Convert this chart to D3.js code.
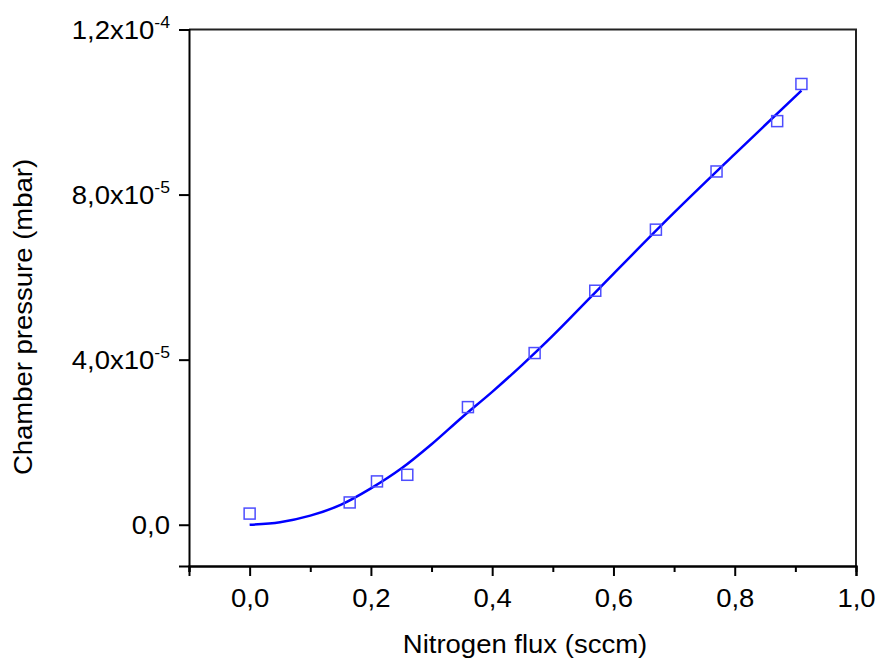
<!DOCTYPE html>
<html>
<head>
<meta charset="utf-8">
<script src="https://cdn.jsdelivr.net/npm/d3@7"></script>
<style>
  html, body { margin: 0; padding: 0; background: #fff; }
  svg { display: block; font-family: "Liberation Sans", Arial, sans-serif; }
</style>
</head>
<body>
<svg id="chart" width="876" height="659"></svg>
<script>
// Measured chamber pressure vs nitrogen flow
const fluxSccm = [0, 0.165, 0.21, 0.26, 0.36, 0.47, 0.57, 0.67, 0.77, 0.87, 0.91];
const pressureMbar = [2.7e-6, 5.4e-6, 1.05e-5, 1.21e-5, 2.85e-5, 4.16e-5, 5.67e-5, 7.15e-5, 8.56e-5, 9.78e-5, 1.068e-4];

// Fitted curve
const fitFlux = [0, 0.05, 0.1, 0.15, 0.2, 0.25, 0.3, 0.35, 0.4, 0.45, 0.5, 0.6, 0.7, 0.8, 0.91];
const fitPressure = [0, 0.6e-6, 2.2e-6, 4.8e-6, 8.8e-6, 1.36e-5, 1.95e-5, 2.60e-5, 3.22e-5, 3.88e-5, 4.58e-5, 6.08e-5, 7.56e-5, 8.98e-5, 1.052e-4];

// Axis ticks
const xMajorTicks = [0, 0.2, 0.4, 0.6, 0.8, 1.0];
const xMinorTicks = [-0.1, 0.1, 0.3, 0.5, 0.7, 0.9];
const xTickLabels = ["0,0", "0,2", "0,4", "0,6", "0,8", "1,0"];
const yTicks = [0, 4e-5, 8e-5, 1.2e-4];
const yTickMantissa = ["0,0", "4,0x10", "8,0x10", "1,2x10"];
const yTickExponent = ["", "-5", "-5", "-4"];

const xTitle = "Nitrogen flux (sccm)";
const yTitle = "Chamber pressure (mbar)";

const svg = d3.select("#chart");
const plotLeft = 189, plotRight = 856, plotTop = 29.5, plotBottom = 566;
const stretch = 1.1;

const x = d3.scaleLinear().domain([-0.1, 1.0]).range([plotLeft, plotRight]);
const y = d3.scaleLinear().domain([-1e-5, 1.2e-4]).range([plotBottom, plotTop]);

// Frame (top and right)
svg.append("path")
  .attr("d", `M${plotLeft},${plotTop}H${plotRight}V${plotBottom}`)
  .attr("fill", "none").attr("stroke", "#222").attr("stroke-width", 2);

// X axis: minor then major ticks
const xMinor = svg.append("g").attr("transform", `translate(0,${plotBottom})`)
  .call(d3.axisBottom(x).tickValues(xMinorTicks).tickSize(6).tickFormat(""));
const xMajor = svg.append("g").attr("transform", `translate(0,${plotBottom})`)
  .call(d3.axisBottom(x).tickValues(xMajorTicks).tickSize(10).tickFormat(""));
[xMinor, xMajor].forEach(g => {
  g.select(".domain").attr("stroke", "#000").attr("stroke-width", 2);
  g.selectAll(".tick line").attr("stroke", "#000").attr("stroke-width", 2);
});
xMajor.selectAll(".tick").append("text")
  .attr("text-anchor", "middle")
  .attr("transform", `translate(0,41) scale(${stretch},1)`)
  .attr("fill", "#000")
  .style("font-size", "25px")
  .text((d, i) => xTickLabels[i]);

// Y axis
const yAxis = svg.append("g").attr("transform", `translate(${plotLeft},0)`)
  .call(d3.axisLeft(y).tickValues(yTicks).tickSize(10).tickFormat(""));
yAxis.select(".domain").attr("stroke", "#000").attr("stroke-width", 2);
yAxis.selectAll(".tick line").attr("stroke", "#000").attr("stroke-width", 2);
const yLabels = yAxis.selectAll(".tick").append("text")
  .attr("text-anchor", "end")
  .attr("transform", `translate(-19,9) scale(${stretch},1)`)
  .attr("fill", "#000")
  .style("font-size", "25px");
yLabels.append("tspan").text((d, i) => yTickMantissa[i]);
yLabels.append("tspan")
  .attr("dy", -11)
  .style("font-size", "16px")
  .text((d, i) => yTickExponent[i]);

// Axis titles
svg.append("text")
  .attr("transform", `translate(525,653) scale(${stretch},1)`)
  .attr("text-anchor", "middle")
  .style("font-size", "25px")
  .attr("fill", "#000")
  .text(xTitle);
svg.append("text")
  .attr("transform", `translate(32,317) rotate(-90) scale(${stretch},1)`)
  .attr("text-anchor", "middle")
  .style("font-size", "25px")
  .attr("fill", "#000")
  .text(yTitle);

// Fitted curve
const line = d3.line()
  .x((d, i) => x(fitFlux[i]))
  .y((d, i) => y(fitPressure[i]))
  .curve(d3.curveCatmullRom.alpha(0.5));
svg.append("path")
  .datum(fitFlux)
  .attr("d", line)
  .attr("fill", "none")
  .attr("stroke", "#0000ff")
  .attr("stroke-width", 2.5);

// Measured points: open squares
const s = 11;
svg.append("g").selectAll("rect")
  .data(fluxSccm)
  .join("rect")
  .attr("x", (d) => x(d) - s / 2)
  .attr("y", (d, i) => y(pressureMbar[i]) - s / 2)
  .attr("width", s).attr("height", s)
  .attr("fill", "none")
  .attr("stroke", "#4d4dff")
  .attr("stroke-width", 1.5);
</script>
</body>
</html>
